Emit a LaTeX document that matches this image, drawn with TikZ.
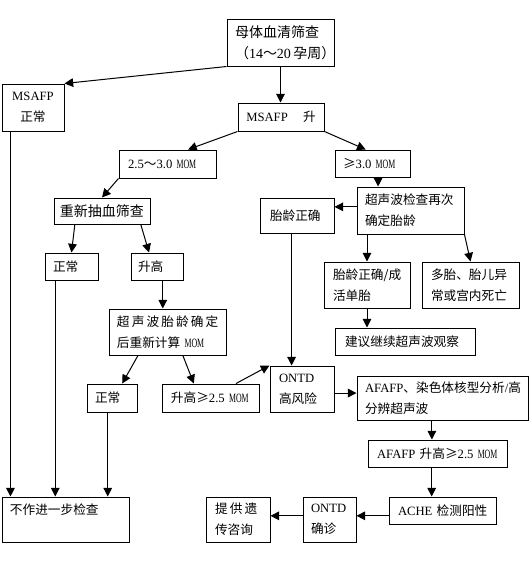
\documentclass[tikz,border=0pt]{standalone}
\usepackage{fontspec}
\usepackage{graphicx}
\setmainfont{Liberation Serif}
\newfontfamily\cjk{Noto Sans CJK SC}
\newcommand\zh[1]{{\cjk #1}}
\newcommand\mom{\scalebox{0.62}[1]{MOM}}
\usetikzlibrary{arrows.meta,calc}
\tikzset{
 box/.code args={#1/#2/#3}{%
  \pgfmathsetmacro\bxw{(#1-2*#3)*0.75}%
  \pgfmathsetmacro\bxh{#2*0.75}%
  \pgfmathsetmacro\bxp{#3*0.75}%
  \edef\bxtmp{\noexpand\pgfkeysalso{draw, rectangle, text width=\bxw pt, minimum height=\bxh pt, inner xsep=\bxp pt, inner ysep=0pt, align=left}}%
  \bxtmp},
 big/.style={font=\fontsize{10.5}{15.75}\selectfont},
 arr/.style={-{Triangle[length=6.5pt,width=6.5pt]}}
}
\begin{document}
\begin{tikzpicture}[x=0.75pt,y=-0.75pt,font=\fontsize{9.5}{15.75}\selectfont,line width=0.75pt]
\useasboundingbox (0,0) rectangle (530,562);
\fill[white] (0,0) rectangle (530,562);
% nodes
\node[box=107/47/8,big] (top) at (280.5,42.5) {\mbox{\zh{母体血清筛查}}\\\mbox{\zh{（}14\zh{～}20\,\zh{孕周）}}};
\node[box=62/47/4,align=center] (msn) at (33,107.5) {\mbox{MSAFP}\\\mbox{\zh{正常}}};
\node[box=86/28/6,align=center] (msu) at (281,117) {\mbox{MSAFP\hspace{1.2em}\zh{升}}};
\node[box=97/28/9] (r25) at (167.5,164) {\mbox{2.5\zh{～}3.0 \mom}};
\node[box=75/27/8] (r30) at (372.5,163.5) {\mbox{\zh{≥}3.0 \mom}};
\node[box=107/47/8] (us) at (410.5,210.5) {\mbox{\zh{超声波检查再次}}\\\mbox{\zh{确定胎龄}}};
\node[box=74/35/10] (ga) at (297,215.5) {\mbox{\zh{胎龄正确}}};
\node[box=96/26/6,big,align=center] (rd) at (102,211) {\mbox{\zh{重新抽血筛查}}};
\node[box=53/27/8] (n1) at (71.5,266.5) {\mbox{\zh{正常}}};
\node[box=52/27/7] (sg) at (157,266.5) {\mbox{\zh{升高}}};
\node[box=86/46/9] (gs) at (367,285) {\mbox{\zh{胎龄正确/成}}\\\mbox{\zh{活单胎}}};
\node[box=97/46/9] (mt) at (470.5,285) {\mbox{\zh{多胎、胎儿异}}\\\mbox{\zh{常或宫内死亡}}};
\node[box=140/27/10] (jy) at (405,341.5) {\mbox{\zh{建议继续超声波观察}}};
\node[box=117/46/8] (ur) at (167.5,332) {\mbox{\zh{超\,声\,波\,胎\,龄\,确\,定}}\\\mbox{\zh{后重新计算} \mom}};
\node[box=50/28/8] (n2) at (112,398) {\mbox{\zh{正常}}};
\node[box=97/28/9] (s25) at (210.5,398) {\mbox{\zh{升高≥}2.5 \mom}};
\node[box=64/46/9] (oh) at (302,389) {\mbox{ONTD}\\\mbox{\zh{高风险}}};
\node[box=171/44/8] (af) at (442.5,398) {\mbox{AFAFP\zh{、染色体核型分析}/\zh{高}}\\\mbox{\zh{分辨超声波}}};
\node[box=139/27/9] (ag) at (437.5,453.5) {\mbox{AFAFP \zh{升高≥}2.5 \mom}};
\node[box=107/27/9] (ac) at (442.5,510.5) {\mbox{ACHE \zh{检测阳性}}};
\node[box=53/45/8] (oc) at (329.5,519.5) {\mbox{ONTD}\\\mbox{\zh{确诊}}};
\node[box=64/45/9] (tg) at (238,519.5) {\mbox{\zh{提\,供\,遗}}\\\mbox{\zh{传咨询}}};
\node[box=127/45/8] (bz) at (65.5,519.5) {\mbox{\zh{不作进一步检查}}\\\mbox{}};
% connectors
\draw[arr] (top.south west) -- (msn.north east);
\draw[arr] (top.south) -- (top.south |- msu.north);
\draw[arr] (msu.south west) -- ($(r25.north west)!0.71!(r25.north east)$);
\draw[arr] (msu.south east) -- ($(r30.north west)!0.41!(r30.north east)$);
\draw[arr] (r25.south west) -- (rd.north);
\coordinate (p1) at ($(us.north west)!0.2!(us.north east)$);
\draw[arr] (r30.south -| p1) -- (p1);
\coordinate (p2) at ($(ga.north east)!0.26!(ga.south east)$);
\draw[arr] (us.west |- p2) -- (p2);
\draw[arr] (us.south -| gs.north) -- (gs.north);
\draw[arr] (us.south east) -- (mt.north);
\draw[arr] ($(rd.south west)!0.22!(rd.south east)$) -- (n1.north);
\draw[arr] ($(rd.south west)!0.9!(rd.south east)$) -- ($(sg.north west)!0.35!(sg.north east)$);
\coordinate (p3) at ($(ur.north west)!0.46!(ur.north east)$);
\draw[arr] (sg.south -| p3) -- (p3);
\draw[arr] (gs.south) -- (gs.south |- jy.north);
\coordinate (p4) at ($(oh.north west)!0.34!(oh.north east)$);
\draw[arr] (ga.south -| p4) -- (p4);
\draw[arr] ($(ur.south west)!0.25!(ur.south east)$) -- ($(n2.north west)!0.7!(n2.north east)$);
\draw[arr] ($(ur.south west)!0.63!(ur.south east)$) -- ($(s25.north west)!0.33!(s25.north east)$);
\draw[arr] ($(s25.north west)!0.76!(s25.north east)$) -- (oh.north west);
\coordinate (p5) at ($(af.north west)!0.39!(af.south west)$);
\draw[arr] (oh.east |- p5) -- (p5);
\coordinate (p6) at ($(ag.north west)!0.46!(ag.north east)$);
\draw[arr] (af.south -| p6) -- (p6);
\coordinate (p7) at ($(ac.north west)!0.4!(ac.north east)$);
\draw[arr] (ag.south -| p7) -- (p7);
\coordinate (p8) at ($(oc.north east)!0.42!(oc.south east)$);
\draw[arr] (ac.west |- p8) -- (p8);
\coordinate (p9) at ($(tg.north east)!0.42!(tg.south east)$);
\draw[arr] (oc.west |- p9) -- (p9);
\coordinate (q1) at ($(bz.north west)!0.07!(bz.north east)$);
\draw[arr] (msn.south -| q1) -- (q1);
\coordinate (q2) at ($(bz.north west)!0.42!(bz.north east)$);
\draw[arr] (n1.south -| q2) -- (q2);
\coordinate (q3) at ($(bz.north west)!0.83!(bz.north east)$);
\draw[arr] (n2.south -| q3) -- (q3);
\end{tikzpicture}
\end{document}
